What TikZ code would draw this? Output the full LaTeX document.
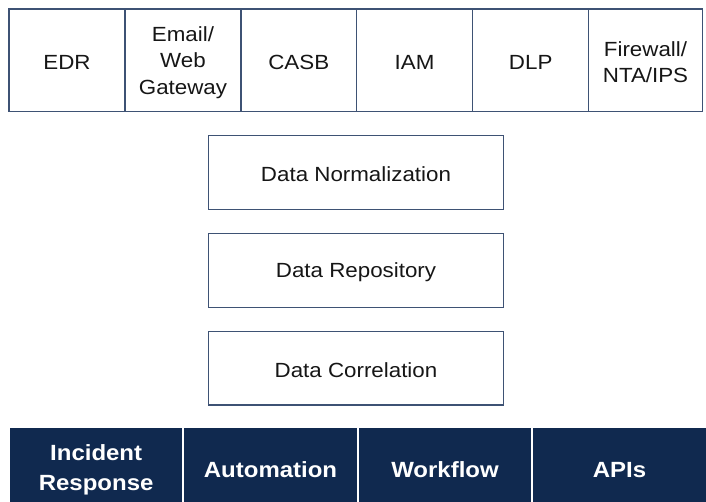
\documentclass[tikz,border=0pt]{standalone}
\usepackage{fontspec}
\setmainfont[FakeStretch=1.09]{Liberation Sans}
\definecolor{boxline}{HTML}{3E5274}
\definecolor{navy}{HTML}{10294F}
\definecolor{txt}{HTML}{161616}
\tikzset{
  srcbox/.style={draw=boxline, line width=1.3pt, fill=white, inner sep=0pt, minimum height=102.3pt},
  midbox/.style={draw=boxline, line width=1.3pt, fill=white, inner sep=0pt,
    minimum width=294.6pt, minimum height=73.6pt},
  lbl/.style={inner sep=0pt, align=center, text=txt, font=\fontsize{20.5}{26.5}\selectfont},
  outbox/.style={fill=navy, draw=none, inner sep=0pt, align=center, text=white,
    font=\bfseries\fontsize{22}{30}\selectfont, minimum height=84.6pt}
}
\begin{document}
\begin{tikzpicture}[x=1pt, y=-1pt]
\useasboundingbox (0,0) rectangle (706,502);
% top row
\node[srcbox, minimum width=116pt] (edr) at (67,60.15) {};
\node[srcbox, minimum width=116pt] (email) at (183,60.15) {};
\node[srcbox, minimum width=115.5pt] (casb) at (298.75,60.15) {};
\node[srcbox, minimum width=116.2pt] (iam) at (414.6,60.15) {};
\node[srcbox, minimum width=116pt] (dlp) at (530.7,60.15) {};
\node[srcbox, minimum width=113.6pt] (fw) at (645.5,60.15) {};
\node[lbl] (edr-t) at ([yshift=-2pt]edr.center) {EDR};
\node[lbl] (email-t) at ([yshift=-2.5pt]email.center) {Email/\\Web\\Gateway};
\node[lbl] (casb-t) at ([yshift=-2pt]casb.center) {CASB};
\node[lbl] (iam-t) at ([yshift=-2pt]iam.center) {IAM};
\node[lbl] (dlp-t) at ([yshift=-2pt]dlp.center) {DLP};
\node[lbl] (fw-t) at ([yshift=-2pt]fw.center) {Firewall/\\NTA/IPS};
% middle
\node[midbox] (norm) at (356,172.5) {};
\node[midbox] (repo) at (356,270.5) {};
\node[midbox] (corr) at (356,368.15) {};
\node[lbl] (norm-t) at ([yshift=-1.8pt]norm.center) {Data Normalization};
\node[lbl] (repo-t) at ([yshift=-1.8pt]repo.center) {Data Repository};
\node[lbl] (corr-t) at ([yshift=-1.8pt]corr.center) {Data Correlation};
% bottom
\node[outbox, minimum width=172.3pt] (ir) at (96.15,470) {Incident\\Response};
\node[outbox, minimum width=173pt] (auto) at (270.5,470) {Automation};
\node[outbox, minimum width=172pt] (wf) at (445,470) {Workflow};
\node[outbox, minimum width=173pt] (api) at (619.5,470) {APIs};
\end{tikzpicture}
\end{document}
